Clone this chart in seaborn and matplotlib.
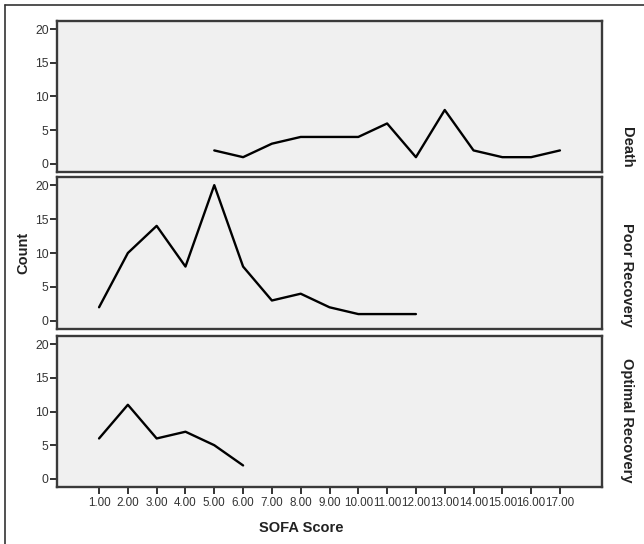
import matplotlib
matplotlib.use("Agg")
import matplotlib.pyplot as plt
from matplotlib.lines import Line2D
import seaborn as sns
import pandas as pd

sns.set_style("white")
plt.rcParams['font.family'] = ['Liberation Sans', 'DejaVu Sans']

# Data
death_x = [5, 6, 7, 8, 9, 10, 11, 12, 13, 14, 15, 16, 17]
death_y = [2, 1, 3, 4, 4, 4, 6, 1, 8, 2, 1, 1, 2]
poor_x = [1, 2, 3, 4, 5, 6, 7, 8, 9, 10, 11, 12]
poor_y = [2, 10, 14, 8, 20, 8, 3, 4, 2, 1, 1, 1]
optimal_x = [1, 2, 3, 4, 5, 6]
optimal_y = [6, 11, 6, 7, 5, 2]
groups = ["Death", "Poor Recovery", "Optimal Recovery"]
x_ticks = list(range(1, 18))
x_tick_labels = [f"{v:.2f}" for v in x_ticks]
y_ticks = [0, 5, 10, 15, 20]

frames = []
for g, xs, ys in zip(groups, [death_x, poor_x, optimal_x], [death_y, poor_y, optimal_y]):
    frames.append(pd.DataFrame({"SOFA": xs, "Count": ys, "Outcome": g}))
df = pd.concat(frames, ignore_index=True)

W, H = 644, 544
fig = plt.figure(figsize=(W / 100, H / 100), dpi=100)
fig.patch.set_facecolor("white")

# panel pixel extents (top, bottom)
panels = [(21, 172), (177, 329), (336, 487)]
left_px, right_px = 57, 602
label_bottoms = [168, 327, 482]

for i, (g, (t, b)) in enumerate(zip(groups, panels)):
    ax = fig.add_axes([left_px / W, 1 - b / H, (right_px - left_px) / W, (b - t) / H])
    sub = df[df["Outcome"] == g]
    sns.lineplot(data=sub, x="SOFA", y="Count", ax=ax, color="black", linewidth=1.7,
                 estimator=None, sort=False)
    ax.set_facecolor("#f0f0f0")
    ax.set_xlim(-0.46, 18.46)
    ax.set_ylim(-1.2, 21.2)
    ax.set_yticks(y_ticks)
    ax.set_yticklabels([str(v) for v in y_ticks], fontsize=8.7, color="#333333")
    ax.tick_params(axis="y", left=True, direction="out", length=5, width=1.4,
                   color="#333333", pad=1)
    for s in ax.spines.values():
        s.set_visible(True)
        s.set_color("#3a3a3a")
        s.set_linewidth(1.7)
    ax.set_xlabel("")
    ax.set_ylabel("")
    if i == 2:
        ax.set_xticks(x_ticks)
        ax.set_xticklabels(x_tick_labels, fontsize=8.4, color="#333333")
        ax.tick_params(axis="x", bottom=True, direction="out", length=5, width=1.4,
                       color="#333333", pad=2)
    else:
        ax.set_xticks([])
    fig.text(627 / W, 1 - label_bottoms[i] / H, g, rotation=-90, ha="center", va="bottom",
             fontsize=10.5, fontweight="bold", color="#222222")

fig.text(23 / W, 1 - 253 / H, "Count", rotation=90, ha="center", va="center",
         fontsize=10.5, fontweight="bold", color="#222222")
fig.text(301 / W, 1 - 528 / H, "SOFA Score", ha="center", va="center",
         fontsize=10.5, fontweight="bold", color="#222222")

# outer border (left and top)
fig.add_artist(Line2D([5 / W, 5 / W], [0, 1 - 5 / H], transform=fig.transFigure,
                      color="#333333", linewidth=1.2))
fig.add_artist(Line2D([5 / W, 1], [1 - 5 / H, 1 - 5 / H], transform=fig.transFigure,
                      color="#333333", linewidth=1.2))

fig.savefig("out.png", dpi=100, facecolor="white")
